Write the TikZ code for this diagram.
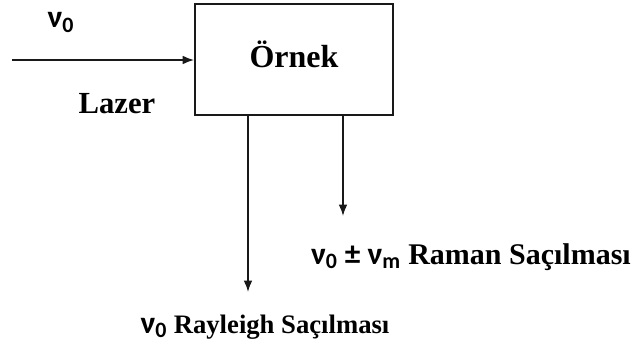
\documentclass[tikz,border=0pt]{standalone}
\usepackage{fontspec}
\setmainfont{Liberation Serif}
\newfontfamily\sansnu{Carlito}
\usepackage{tikz}
\usetikzlibrary{arrows.meta, positioning, calc}
\definecolor{linegray}{RGB}{25, 25, 25}
\newcommand{\nufont}{\fontsize{23.5}{28}\selectfont\sansnu}

\begin{document}
\begin{tikzpicture}[
    x=0.75pt, y=-0.75pt,
    sample/.style={rectangle, draw=linegray, line width=1.4pt, minimum width=148.5pt, minimum height=83pt, font=\fontsize{24}{28}\selectfont\bfseries, text depth=8pt, inner sep=0pt},
    line/.style={draw=linegray, line width=1.2pt, -{Latex[length=8.5pt, width=6.5pt]}},
    freq/.style={font=\nufont\bfseries, inner sep=0pt},
    label/.style={font=\fontsize{20}{24}\selectfont\bfseries, inner sep=0pt, anchor=base}
]
\useasboundingbox (0,0) rectangle (642,347);

\node[sample] (ornek) at (294,59.5) {Örnek};

\coordinate (laserin) at (12,60);
\node[freq] (nuzero) at (61,22) {ν\textsubscript{0}};
\node[label, font=\fontsize{23}{26}\selectfont\bfseries] (lazer) at (117,113) {Lazer};

\node[label, font=\fontsize{22.5}{26}\selectfont\bfseries] (raman) at (471,264) {{\nufont ν\textsubscript{0} ± ν\textsubscript{m}} Raman Saçılması};
\node[label] (rayleigh) at (265,333) {{\nufont ν\textsubscript{0}} Rayleigh Saçılması};

\coordinate (rayend) at (248,292);
\coordinate (ramend) at (343,216);

\draw[line] (laserin) -- (ornek.west |- laserin);
\draw[line] (ornek.south -| rayend) -- (rayend);
\draw[line] (ornek.south -| ramend) -- (ramend);

\end{tikzpicture}
\end{document}
